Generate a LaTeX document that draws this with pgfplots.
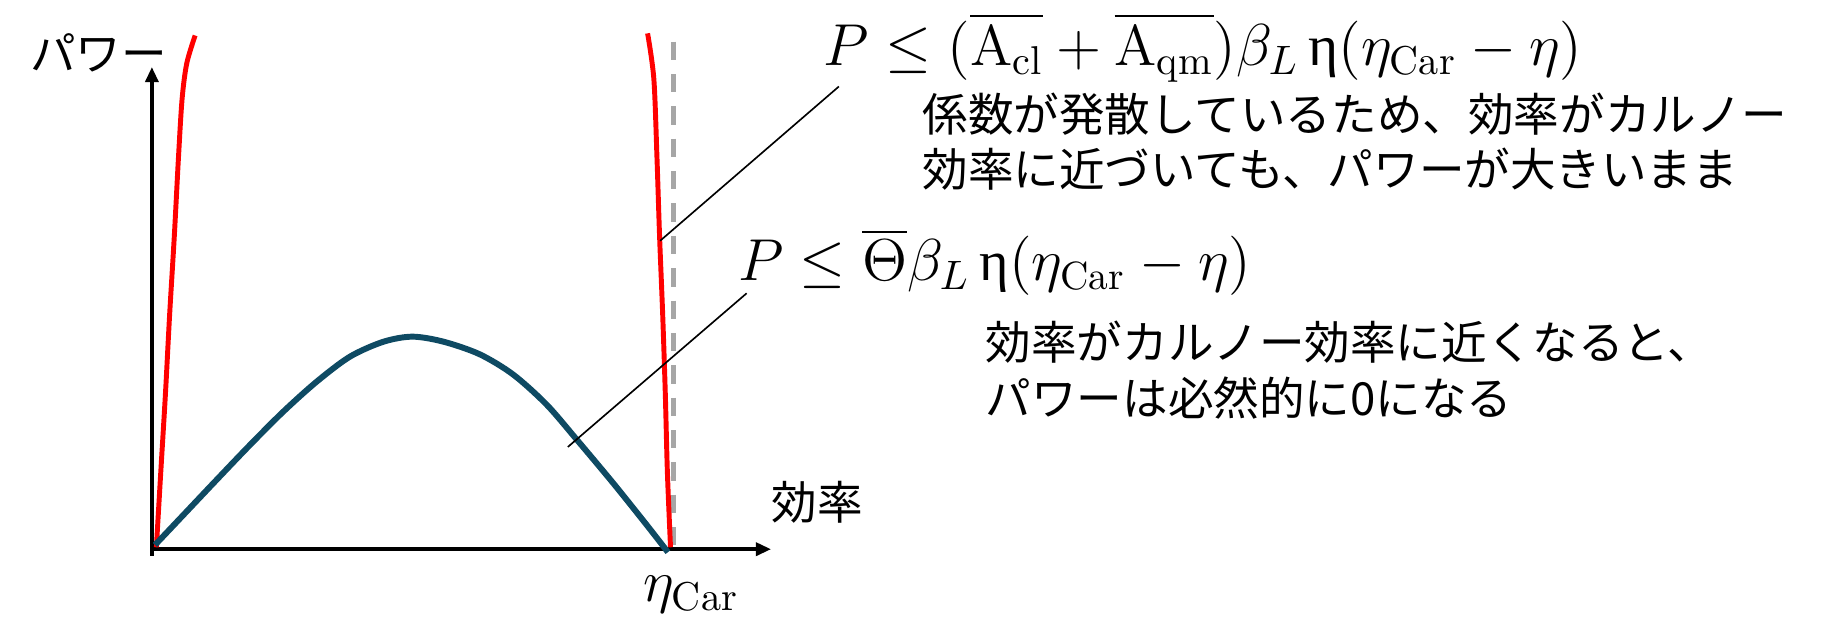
\documentclass[border=0pt]{standalone}
\usepackage{fontspec}
\usepackage{amsmath}
\usepackage{pgfplots}
\pgfplotsset{compat=1.18}
\usetikzlibrary{arrows.meta}
\newfontfamily\cjk{Noto Sans CJK JP}
\newfontfamily\grfont{Liberation Serif}
\definecolor{curveblue}{HTML}{0E4A63}
\definecolor{dashgray}{HTML}{A6A6A6}

\begin{document}
\begin{tikzpicture}
\path[use as bounding box] (-1.30,-0.553) rectangle (14.38,4.757);
\begin{axis}[
    at={(0,0)}, anchor=south west,
    scale only axis, width=5.30cm, height=4.184cm,
    xmin=0, xmax=1.188, ymin=-0.031, ymax=2.269,
    axis lines=middle,
    axis line style={line width=1pt, -{Triangle[length=1.3mm,width=1.1mm]}},
    xtick=\empty, ytick=\empty,
    clip=false,
]
% eta_Car
\addplot[dashgray, line width=1.2pt, dash pattern=on 1.57mm off 1.2mm] coordinates {(1,2.388) (1,0)};
% upper bound with diverging coefficient
\addplot[red, line width=1.2pt, smooth] coordinates {
    (0.0086,0.009) (0.017,0.361) (0.026,0.731) (0.034,1.102) (0.043,1.472)
    (0.051,1.843) (0.058,2.12) (0.067,2.287) (0.083,2.417)};
\addplot[red, line width=1.2pt, smooth] coordinates {
    (0.951,2.427) (0.963,2.213) (0.969,1.843) (0.974,1.472) (0.980,1.102)
    (0.985,0.731) (0.989,0.361) (0.995,0.009)};
% bounded coefficient
\addplot[curveblue, line width=1.45pt, smooth] coordinates {
    (0.006,0.02) (0.06,0.16) (0.124,0.326) (0.188,0.49) (0.252,0.647)
    (0.316,0.788) (0.38,0.906) (0.444,0.976) (0.50,1.0) (0.56,0.976)
    (0.629,0.917) (0.693,0.822) (0.757,0.681) (0.815,0.516) (0.885,0.311)
    (0.949,0.115) (0.99,-0.014)};
% leader lines
\draw[black, line width=0.4pt] (axis cs:1.318,2.177) -- (axis cs:0.975,1.451);
\draw[black, line width=0.4pt] (axis cs:1.141,1.204) -- (axis cs:0.798,0.481);
\end{axis}

\node[anchor=west, inner sep=0] at (-1.05,4.307) {\fontsize{11.1pt}{13.7pt}\cjk パワー};
\node[anchor=west, inner sep=0] at (5.30,0.457) {\fontsize{11.1pt}{13.7pt}\cjk 効率};
\node[anchor=base west, inner sep=0] at (4.20,-0.393) {\fontsize{14pt}{16pt}\selectfont $\eta_{\mathrm{Car}}$};

\node[anchor=base west, inner sep=0] at (5.74,4.197) {\fontsize{14pt}{16pt}\selectfont
    $P \le (\overline{\mathrm{A}_{\mathrm{cl}}} + \overline{\mathrm{A}_{\mathrm{qm}}})\beta_L\,\mbox{\grfont η}(\eta_{\mathrm{Car}} - \eta)$};
\node[anchor=west, inner sep=0] at (6.59,3.777) {\fontsize{11.1pt}{13.7pt}\cjk 係数が発散しているため、効率がカルノー};
\node[anchor=west, inner sep=0] at (6.59,3.307) {\fontsize{11.1pt}{13.7pt}\cjk 効率に近づいても、パワーが大きいまま};

\node[anchor=base west, inner sep=0] at (5.01,2.357) {\fontsize{13.7pt}{16pt}\selectfont
    $P \le \overline{\Theta}\beta_L\,\mbox{\grfont η}(\eta_{\mathrm{Car}} - \eta)$};
\node[anchor=west, inner sep=0] at (7.13,1.827) {\fontsize{11.1pt}{13.7pt}\cjk 効率がカルノー効率に近くなると、};
\node[anchor=west, inner sep=0] at (7.13,1.347) {\fontsize{11.1pt}{13.7pt}\cjk パワーは必然的に0になる};
\end{tikzpicture}
\end{document}
